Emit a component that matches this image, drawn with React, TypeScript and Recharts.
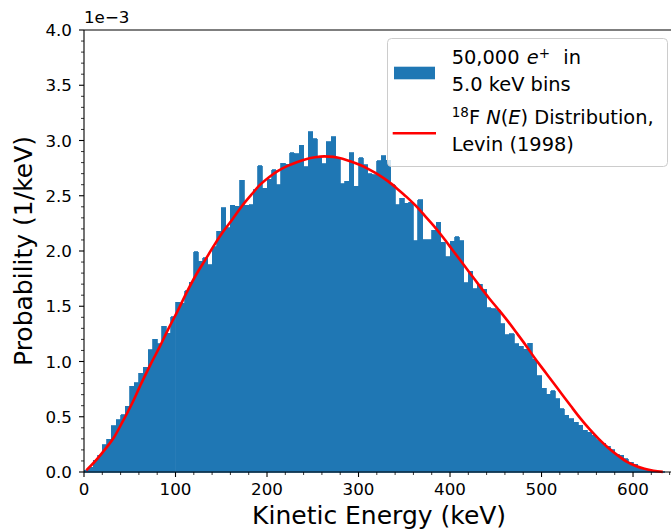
import React from 'react';
import { ComposedChart, Bar, Line, XAxis, YAxis, Legend, ReferenceLine, Label } from 'recharts';

const FONT = '"DejaVu Sans", sans-serif';
const BIN_WIDTH = 5; // keV

// histogram of 50,000 positrons, probability per keV in units of 1e-3, one value per 5 keV bin
const probability = [
  0.015, 0.045, 0.106, 0.151, 0.247, 0.298, 0.419, 0.473, 0.519, 0.593,
  0.777, 0.807, 0.894, 0.949, 1.106, 1.2, 1.16, 1.32, 1.256, 1.406,
  1.536, 1.527, 1.641, 1.716, 1.994, 1.906, 1.937, 1.874, 2.04, 2.18,
  2.39, 2.21, 2.415, 2.403, 2.641, 2.415, 2.418, 2.554, 2.771, 2.569,
  2.65, 2.737, 2.599, 2.795, 2.786, 2.891, 2.882, 2.958, 2.762, 3.08,
  3.017, 2.846, 2.79, 2.987, 3.033, 2.846, 2.61, 2.63, 2.891, 2.585,
  2.846, 2.78, 2.7, 2.69, 2.816, 2.861, 2.82, 2.6, 2.418, 2.479,
  2.43, 2.44, 2.093, 2.466, 2.1, 2.1, 2.19, 2.26, 2.08, 1.948,
  2.09, 2.129, 2.093, 1.713, 1.815, 1.66, 1.7, 1.655, 1.487, 1.476,
  1.47, 1.34, 1.24, 1.25, 1.16, 1.14, 1.11, 1.165, 1.02, 0.873,
  0.757, 0.704, 0.735, 0.663, 0.573, 0.512, 0.482, 0.452, 0.422, 0.377,
  0.361, 0.331, 0.293, 0.262, 0.235, 0.202, 0.16, 0.151, 0.121, 0.088,
  0.07, 0.045, 0.03, 0.015, 0.006, 0.003, 0.001,
];

// Levin (1998) N(E) curve, read at every other bin centre
const curveEnergy = [
  2.5, 12.5, 22.5, 32.5, 42.5, 52.5, 62.5, 72.5, 82.5, 92.5,
  102.5, 112.5, 122.5, 132.5, 142.5, 152.5, 162.5, 172.5, 182.5, 192.5,
  202.5, 212.5, 222.5, 232.5, 242.5, 252.5, 262.5, 272.5, 282.5, 292.5,
  302.5, 312.5, 322.5, 332.5, 342.5, 352.5, 362.5, 372.5, 382.5, 392.5,
  402.5, 412.5, 422.5, 432.5, 442.5, 452.5, 462.5, 472.5, 482.5, 492.5,
  502.5, 512.5, 522.5, 532.5, 542.5, 552.5, 562.5, 572.5, 582.5, 592.5,
  602.5, 612.5, 622.5, 632.5,
];
const curveDensity = [
  0.015, 0.1, 0.2, 0.31, 0.46, 0.62, 0.8, 0.97, 1.13, 1.3,
  1.46, 1.63, 1.785, 1.92, 2.055, 2.18, 2.29, 2.405, 2.505, 2.6,
  2.67, 2.727, 2.77, 2.803, 2.83, 2.848, 2.856, 2.852, 2.835, 2.808,
  2.776, 2.734, 2.687, 2.63, 2.562, 2.49, 2.41, 2.318, 2.225, 2.122,
  2.012, 1.902, 1.792, 1.682, 1.575, 1.475, 1.372, 1.262, 1.15, 1.032,
  0.922, 0.812, 0.702, 0.592, 0.485, 0.387, 0.3, 0.222, 0.155, 0.097,
  0.057, 0.029, 0.011, 0.001,
];

const xTicks = [
  0, 20, 40, 60, 80, 100, 120, 140, 160, 180, 200, 220, 240, 260, 280, 300, 320,
  340, 360, 380, 400, 420, 440, 460, 480, 500, 520, 540, 560, 580, 600, 620, 640,
];
const yTicks = [
  0, 0.1, 0.2, 0.3, 0.4, 0.5, 0.6, 0.7, 0.8, 0.9, 1.0, 1.1, 1.2, 1.3, 1.4, 1.5, 1.6, 1.7, 1.8, 1.9, 2.0,
  2.1, 2.2, 2.3, 2.4, 2.5, 2.6, 2.7, 2.8, 2.9, 3.0, 3.1, 3.2, 3.3, 3.4, 3.5, 3.6, 3.7, 3.8, 3.9, 4.0,
];

const rows = probability.map((p, i) => {
  const e = i * BIN_WIDTH + BIN_WIDTH / 2;
  const k = curveEnergy.indexOf(e);
  return { e, p, n: k >= 0 ? curveDensity[k] : null };
});

const W = 700;
const H = 531;
const PLOT_LEFT = 84;
const PLOT_RIGHT = 674.2;
const PLOT_TOP = 30;
const PLOT_BOTTOM = 472;
const X_MAX = 645;
const barWidth = ((PLOT_RIGHT - PLOT_LEFT) * BIN_WIDTH) / X_MAX - 0.005;

const XTick = ({ x, y, payload }: any) => {
  const v = payload.value;
  const major = v % 100 === 0;
  return (
    <g>
      <line x1={x} x2={x} y1={y} y2={y + (major ? 5 : 3)} stroke="#000" strokeWidth={major ? 1.1 : 0.8} />
      {major && (
        <text x={x} y={y + 23} textAnchor="middle" fontSize={16.7} fontFamily={FONT} fill="#000">
          {v}
        </text>
      )}
    </g>
  );
};

const YTick = ({ x, y, payload }: any) => {
  const v = payload.value;
  const major = Math.abs(v * 2 - Math.round(v * 2)) < 1e-6;
  return (
    <g>
      <line x1={x - (major ? 5 : 3)} x2={x} y1={y} y2={y} stroke="#000" strokeWidth={major ? 1.1 : 0.8} />
      {major && (
        <text x={x - 12} y={y + 6} textAnchor="end" fontSize={16.7} fontFamily={FONT} fill="#000">
          {v.toFixed(1)}
        </text>
      )}
    </g>
  );
};

const LegendBox = () => (
  <svg width={282} height={130} style={{ display: 'block' }}>
    <rect x={0.5} y={0.5} width={280} height={128} rx={4} fill="#fff" fillOpacity={0.8} stroke="#cccccc" />
    <rect x={7} y={28.7} width={41} height={12.6} fill="#1f77b4" />
    <line x1={5.7} x2={49} y1={95.3} y2={95.3} stroke="#ff0000" strokeWidth={2.6} />
    <g fontFamily={FONT} fontSize={19.4} fill="#000">
      <text x={64.7} y={25.5}>
        50,000{' '}
        <tspan x={139.7} fontStyle="italic">e</tspan>
        <tspan dy={-6} fontSize={13.5}>+</tspan>
        <tspan x={176.3} dy={6}>in</tspan>
      </text>
      <text x={64.7} y={53}>5.0 keV bins</text>
      <text x={64.7} y={86.3}>
        <tspan dy={-7} fontSize={13.5}>18</tspan>
        <tspan dy={7}>F </tspan>
        <tspan fontStyle="italic">N</tspan>
        <tspan>(</tspan>
        <tspan fontStyle="italic">E</tspan>
        <tspan>) Distribution,</tspan>
      </text>
      <text x={64.7} y={112.7}>Levin (1998)</text>
    </g>
  </svg>
);

const App = () => {
  return (
    <div style={{ position: 'fixed', left: 0, top: 0, width: 671, height: 531, overflow: 'hidden', background: '#fff' }}>
      <style>{`.recharts-bar-rectangle path, .recharts-bar-rectangle rect { shape-rendering: crispEdges; }`}</style>
      <ComposedChart
        width={W}
        height={H}
        data={rows}
        margin={{ top: PLOT_TOP, right: W - PLOT_RIGHT, bottom: 0, left: 0 }}
      >
        <XAxis
          dataKey="e"
          type="number"
          domain={[0, X_MAX]}
          ticks={xTicks}
          interval={0}
          tick={<XTick />}
          tickLine={false}
          tickSize={0}
          tickMargin={0}
          height={H - PLOT_BOTTOM}
          axisLine={{ stroke: '#000', strokeWidth: 1.1 }}
        >
          <Label
            content={() => (
              <text x={(PLOT_LEFT + PLOT_RIGHT) / 2} y={524} textAnchor="middle" fontSize={25} fontFamily={FONT} fill="#000">
                Kinetic Energy (keV)
              </text>
            )}
          />
        </XAxis>
        <YAxis
          type="number"
          domain={[0, 4]}
          ticks={yTicks}
          interval={0}
          tick={<YTick />}
          tickLine={false}
          tickSize={0}
          tickMargin={0}
          width={PLOT_LEFT}
          axisLine={{ stroke: '#000', strokeWidth: 1.1 }}
        >
          <Label
            content={() => (
              <g>
                <text
                  transform={`translate(32, ${(PLOT_TOP + PLOT_BOTTOM) / 2}) rotate(-90)`}
                  textAnchor="middle"
                  fontSize={25}
                  fontFamily={FONT}
                  fill="#000"
                >
                  Probability (1/keV)
                </text>
                <text x={PLOT_LEFT} y={23} fontSize={16.7} fontFamily={FONT} fill="#000">
                  1e−3
                </text>
              </g>
            )}
          />
        </YAxis>
        <Bar
          dataKey="p"
          fill="#1f77b4"
          stroke="#1f77b4"
          strokeWidth={0.8}
          barSize={barWidth}
          isAnimationActive={false}
          legendType="none"
        />
        <Line
          dataKey="n"
          type="monotone"
          stroke="#ff0000"
          strokeWidth={2.6}
          dot={false}
          activeDot={false}
          connectNulls
          isAnimationActive={false}
          legendType="none"
        />
        <ReferenceLine y={4} stroke="#000" strokeWidth={1.1} />
        <Legend
          layout="vertical"
          align="center"
          verticalAlign="middle"
          content={LegendBox}
          wrapperStyle={{ left: 387, top: 38, width: 282, height: 130 }}
        />
      </ComposedChart>
    </div>
  );
};

export default App;
